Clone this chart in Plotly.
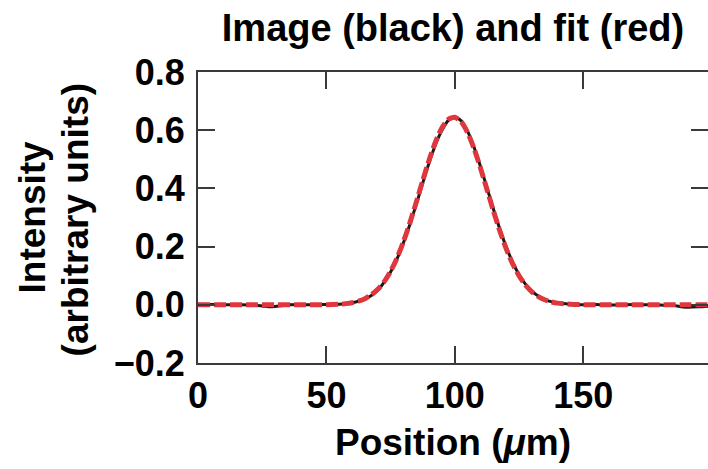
import plotly.graph_objects as go

# Measured line profile (image) and Gaussian fit, position in micrometres
image_x = [0, 5, 10, 15, 20, 25, 27.5, 30, 32.5, 35, 40, 45, 50, 55,
           57.5, 60, 62.5, 65, 67.5, 70, 72.5, 75, 77.5, 80, 82.5, 85, 87.5,
           90, 92.5, 95, 97.5, 100, 102.5, 105, 107.5, 110, 112.5, 115, 117.5,
           120, 122.5, 125, 127.5, 130, 132.5, 135, 137.5, 140,
           145, 150, 155, 160, 165, 170, 175, 180, 185, 187.5, 190, 195, 200]
image_y = [0.002, 0.001, 0.000, 0.001, -0.001, -0.004, -0.007, -0.006, -0.003, 0.000, 0.001, 0.000, 0.001, 0.002,
           0.004, 0.007, 0.012, 0.020, 0.032, 0.050, 0.078, 0.113, 0.158, 0.213, 0.276, 0.345, 0.418,
           0.488, 0.551, 0.600, 0.634, 0.645, 0.632, 0.596, 0.541, 0.475, 0.403, 0.330, 0.261,
           0.199, 0.147, 0.104, 0.071, 0.047, 0.030, 0.018, 0.011, 0.006,
           0.002, 0.000, 0.001, -0.001, 0.000, 0.001, 0.000, -0.001, -0.002, -0.006, -0.008, -0.007, -0.004]

fit_x = [0, 10, 20, 30, 40, 50, 55, 57.5, 60, 62.5, 65, 67.5, 70, 72.5, 75, 77.5,
         80, 82.5, 85, 87.5, 90, 92.5, 95, 97.5, 100, 102.5, 105, 107.5, 110,
         112.5, 115, 117.5, 120, 122.5, 125, 127.5, 130, 132.5, 135, 137.5, 140,
         145, 150, 160, 170, 180, 190, 200]
fit_y = [0.0, 0.0, 0.0, 0.0, 0.0, 0.0006, 0.0022, 0.0041, 0.0073, 0.0127, 0.0212, 0.0342, 0.0531, 0.0796, 0.1152, 0.1609,
         0.2167, 0.2815, 0.3528, 0.4267, 0.4978, 0.5604, 0.6086, 0.6377, 0.6445, 0.6286, 0.5914, 0.5368, 0.4701,
         0.3971, 0.3237, 0.2546, 0.1931, 0.1413, 0.0998, 0.0680, 0.0447, 0.0284, 0.0174, 0.0102, 0.0058,
         0.0017, 0.0005, 0.0, 0.0, 0.0, 0.0, 0.0]

x_ticks = [0, 50, 100, 150]
y_ticks = [-0.2, 0.0, 0.2, 0.4, 0.6, 0.8]

FONT = "Liberation Sans, Arial, Helvetica, sans-serif"
AXIS_COLOR = "#3a3a3a"

fig = go.Figure()
fig.add_trace(go.Scatter(x=image_x, y=image_y, mode="lines",
                         line=dict(color="#1a1a1a", width=3, shape="spline", smoothing=0.6),
                         hoverinfo="skip", showlegend=False))
fig.add_trace(go.Scatter(x=fit_x, y=fit_y, mode="lines",
                         line=dict(color="#E0373F", width=5, dash="12px,4px",
                                   shape="spline", smoothing=0.6),
                         hoverinfo="skip", showlegend=False))
# Empty trace carrying the right-hand tick axis
fig.add_trace(go.Scatter(x=[None], y=[None], yaxis="y2", showlegend=False, hoverinfo="skip"))

fig.update_layout(
    width=708, height=469,
    margin=dict(l=198, r=0, t=72, b=106),
    paper_bgcolor="white", plot_bgcolor="white",
    font=dict(family=FONT, color="black"),
    title=dict(text="<b>Image (black) and fit (red)</b>",
               font=dict(size=38, family=FONT, color="black"),
               x=0.5, xref="paper", xanchor="center",
               y=1 - 28 / 469, yref="container", yanchor="middle"),
    xaxis=dict(range=[0, 198.6], tickvals=x_ticks, ticktext=[str(v) for v in x_ticks],
               ticks="inside", ticklen=17, tickwidth=2, tickcolor=AXIS_COLOR,
               showline=True, linecolor=AXIS_COLOR, linewidth=2, mirror="ticks",
               showgrid=False, zeroline=False,
               tickfont=dict(size=36, family=FONT, color="black", weight="bold"),
               title=dict(text="<b>Position (<i>μ</i>m)</b>",
                          font=dict(size=37, family=FONT, color="black"), standoff=14)),
    yaxis=dict(range=[-0.2, 0.8], tickvals=y_ticks, tickformat=".1f",
               ticks="inside", ticklen=17, tickwidth=2, tickcolor=AXIS_COLOR,
               showline=True, linecolor=AXIS_COLOR, linewidth=2, mirror=False,
               showgrid=False, zeroline=False, ticklabelstandoff=4,
               tickfont=dict(size=36, family=FONT, color="black", weight="bold")),
    yaxis2=dict(range=[-0.2, 0.8], tickvals=y_ticks, overlaying="y", side="right",
                ticks="inside", ticklen=17, tickwidth=2, tickcolor=AXIS_COLOR,
                showline=False, showgrid=False, zeroline=False, showticklabels=False),
)

# Two-line vertical axis label
fig.add_annotation(text="<b>Intensity</b>", textangle=-90,
                   xref="paper", yref="paper", x=(32 - 198) / 510, y=0.5,
                   xanchor="center", yanchor="middle", showarrow=False,
                   font=dict(size=37, family=FONT, color="black"))
fig.add_annotation(text="<b>(arbitrary units)</b>", textangle=-90,
                   xref="paper", yref="paper", x=(75 - 198) / 510, y=0.49,
                   xanchor="center", yanchor="middle", showarrow=False,
                   font=dict(size=37, family=FONT, color="black"))

fig.write_html("out.html")
